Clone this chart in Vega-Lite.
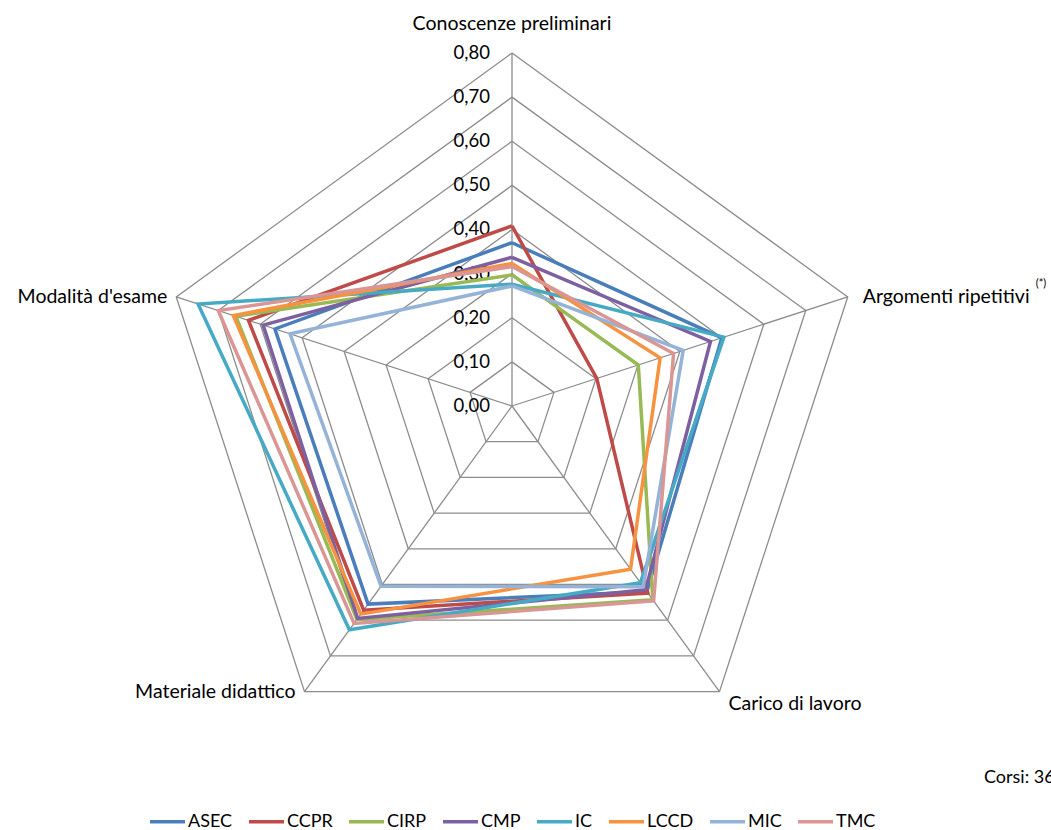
{
  "$schema": "https://vega.github.io/schema/vega-lite/v6.json",
  "width": 1051,
  "height": 830,
  "autosize": {"type": "none"},
  "padding": 0,
  "background": "white",
  "config": {"view": {"stroke": null}, "font": "Lato"},
  "datasets": {
    "series": [
      {"corso": "ASEC", "k": 0, "v": 0.370}, {"corso": "ASEC", "k": 1, "v": 0.500}, {"corso": "ASEC", "k": 2, "v": 0.520}, {"corso": "ASEC", "k": 3, "v": 0.555}, {"corso": "ASEC", "k": 4, "v": 0.565}, {"corso": "ASEC", "k": 5, "v": 0.370},
      {"corso": "CCPR", "k": 0, "v": 0.408}, {"corso": "CCPR", "k": 1, "v": 0.202}, {"corso": "CCPR", "k": 2, "v": 0.524}, {"corso": "CCPR", "k": 3, "v": 0.572}, {"corso": "CCPR", "k": 4, "v": 0.628}, {"corso": "CCPR", "k": 5, "v": 0.408},
      {"corso": "CIRP", "k": 0, "v": 0.297}, {"corso": "CIRP", "k": 1, "v": 0.301}, {"corso": "CIRP", "k": 2, "v": 0.543}, {"corso": "CIRP", "k": 3, "v": 0.598}, {"corso": "CIRP", "k": 4, "v": 0.658}, {"corso": "CIRP", "k": 5, "v": 0.297},
      {"corso": "CMP", "k": 0, "v": 0.337}, {"corso": "CMP", "k": 1, "v": 0.473}, {"corso": "CMP", "k": 2, "v": 0.515}, {"corso": "CMP", "k": 3, "v": 0.595}, {"corso": "CMP", "k": 4, "v": 0.593}, {"corso": "CMP", "k": 5, "v": 0.337},
      {"corso": "IC", "k": 0, "v": 0.276}, {"corso": "IC", "k": 1, "v": 0.505}, {"corso": "IC", "k": 2, "v": 0.495}, {"corso": "IC", "k": 3, "v": 0.627}, {"corso": "IC", "k": 4, "v": 0.748}, {"corso": "IC", "k": 5, "v": 0.276},
      {"corso": "LCCD", "k": 0, "v": 0.323}, {"corso": "LCCD", "k": 1, "v": 0.353}, {"corso": "LCCD", "k": 2, "v": 0.457}, {"corso": "LCCD", "k": 3, "v": 0.583}, {"corso": "LCCD", "k": 4, "v": 0.664}, {"corso": "LCCD", "k": 5, "v": 0.323},
      {"corso": "MIC", "k": 0, "v": 0.272}, {"corso": "MIC", "k": 1, "v": 0.408}, {"corso": "MIC", "k": 2, "v": 0.506}, {"corso": "MIC", "k": 3, "v": 0.505}, {"corso": "MIC", "k": 4, "v": 0.529}, {"corso": "MIC", "k": 5, "v": 0.272},
      {"corso": "TMC", "k": 0, "v": 0.316}, {"corso": "TMC", "k": 1, "v": 0.385}, {"corso": "TMC", "k": 2, "v": 0.546}, {"corso": "TMC", "k": 3, "v": 0.609}, {"corso": "TMC", "k": 4, "v": 0.700}, {"corso": "TMC", "k": 5, "v": 0.316}
    ],
    "levels": [
      {"level": 0.0, "lab": "0,00", "k": [0, 1, 2, 3, 4, 5]},
      {"level": 0.1, "lab": "0,10", "k": [0, 1, 2, 3, 4, 5]},
      {"level": 0.2, "lab": "0,20", "k": [0, 1, 2, 3, 4, 5]},
      {"level": 0.3, "lab": "0,30", "k": [0, 1, 2, 3, 4, 5]},
      {"level": 0.4, "lab": "0,40", "k": [0, 1, 2, 3, 4, 5]},
      {"level": 0.5, "lab": "0,50", "k": [0, 1, 2, 3, 4, 5]},
      {"level": 0.6, "lab": "0,60", "k": [0, 1, 2, 3, 4, 5]},
      {"level": 0.7, "lab": "0,70", "k": [0, 1, 2, 3, 4, 5]},
      {"level": 0.8, "lab": "0,80", "k": [0, 1, 2, 3, 4, 5]}
    ],
    "axes": [
      {"k": 0, "name": "Conoscenze preliminari", "pos": "top"},
      {"k": 1, "name": "Argomenti ripetitivi", "pos": "right"},
      {"k": 2, "name": "Carico di lavoro", "pos": "bright"},
      {"k": 3, "name": "Materiale didattico", "pos": "bleft"},
      {"k": 4, "name": "Modalità d'esame", "pos": "left"}
    ],
    "note": [{"x": 1.0697, "y": -0.8429, "t": "Corsi: 36"}]
  },
  "layer": [
    {
      "data": {"name": "levels"},
      "transform": [
        {"filter": "datum.level > 0"},
        {"flatten": ["k"]},
        {"calculate": "PI/2 - datum.k*2*PI/5", "as": "ang"},
        {"calculate": "datum.level*cos(datum.ang)", "as": "px"},
        {"calculate": "datum.level*sin(datum.ang)", "as": "py"}
      ],
      "mark": {"type": "line", "color": "#8c8c8c", "strokeWidth": 1.3},
      "encoding": {
        "x": {"field": "px", "type": "quantitative", "axis": null, "scale": {"domain": [-1.16034, 1.22153], "nice": false, "zero": false}},
        "y": {"field": "py", "type": "quantitative", "axis": null, "scale": {"domain": [-0.96091, 0.92011], "nice": false, "zero": false}},
        "detail": {"field": "level"},
        "order": {"field": "k", "type": "quantitative"}
      }
    },
    {
      "data": {"name": "axes"},
      "transform": [
        {"calculate": "PI/2 - datum.k*2*PI/5", "as": "ang"},
        {"calculate": "0.8*cos(datum.ang)", "as": "px"},
        {"calculate": "0.8*sin(datum.ang)", "as": "py"},
        {"calculate": "0", "as": "ox"},
        {"calculate": "0", "as": "oy"}
      ],
      "mark": {"type": "rule", "color": "#8c8c8c", "strokeWidth": 1.3},
      "encoding": {
        "x": {"field": "ox", "type": "quantitative", "axis": null, "scale": {"domain": [-1.16034, 1.22153], "nice": false, "zero": false}},
        "y": {"field": "oy", "type": "quantitative", "axis": null, "scale": {"domain": [-0.96091, 0.92011], "nice": false, "zero": false}},
        "x2": {"field": "px"},
        "y2": {"field": "py"}
      }
    },
    {
      "data": {"name": "levels"},
      "transform": [{"calculate": "0", "as": "ox"}],
      "mark": {"type": "text", "align": "right", "baseline": "middle", "dx": -22, "fontSize": 18.5, "color": "#000000"},
      "encoding": {
        "x": {"field": "ox", "type": "quantitative", "axis": null, "scale": {"domain": [-1.16034, 1.22153], "nice": false, "zero": false}},
        "y": {"field": "level", "type": "quantitative", "axis": null, "scale": {"domain": [-0.96091, 0.92011], "nice": false, "zero": false}},
        "text": {"field": "lab"}
      }
    },
    {
      "data": {"name": "series"},
      "transform": [
        {"calculate": "PI/2 - datum.k*2*PI/5", "as": "ang"},
        {"calculate": "datum.v*cos(datum.ang)", "as": "px"},
        {"calculate": "datum.v*sin(datum.ang)", "as": "py"}
      ],
      "mark": {"type": "line", "strokeWidth": 3.5, "strokeJoin": "miter"},
      "encoding": {
        "x": {"field": "px", "type": "quantitative", "axis": null, "scale": {"domain": [-1.16034, 1.22153], "nice": false, "zero": false}},
        "y": {"field": "py", "type": "quantitative", "axis": null, "scale": {"domain": [-0.96091, 0.92011], "nice": false, "zero": false}},
        "order": {"field": "k", "type": "quantitative"},
        "color": {
          "field": "corso",
          "type": "nominal",
          "scale": {
            "domain": ["ASEC", "CCPR", "CIRP", "CMP", "IC", "LCCD", "MIC", "TMC"],
            "range": ["#4A7EBB", "#BE4B48", "#98B954", "#7D60A0", "#46AAC5", "#F69240", "#95B3D7", "#D99694"]
          },
          "legend": {
            "orient": "none",
            "legendX": 148,
            "legendY": 802,
            "direction": "horizontal",
            "title": null,
            "symbolType": "stroke",
            "symbolSize": 1225,
            "symbolStrokeWidth": 3.5,
            "labelFont": "Lato",
            "labelFontSize": 18,
            "labelColor": "#000000",
            "labelOffset": 1,
            "columnPadding": 9
          }
        }
      }
    },
    {
      "data": {"name": "axes"},
      "transform": [
        {"calculate": "PI/2 - datum.k*2*PI/5", "as": "ang"},
        {"calculate": "0.8*cos(datum.ang)", "as": "px"},
        {"calculate": "0.8*sin(datum.ang)", "as": "py"},
        {"filter": "datum.pos == 'top'"}
      ],
      "mark": {"type": "text", "align": "center", "baseline": "middle", "dy": -29, "fontSize": 19.5, "color": "#000000"},
      "encoding": {
        "x": {"field": "px", "type": "quantitative", "axis": null, "scale": {"domain": [-1.16034, 1.22153], "nice": false, "zero": false}},
        "y": {"field": "py", "type": "quantitative", "axis": null, "scale": {"domain": [-0.96091, 0.92011], "nice": false, "zero": false}},
        "text": {"field": "name"}
      }
    },
    {
      "data": {"name": "axes"},
      "transform": [
        {"calculate": "PI/2 - datum.k*2*PI/5", "as": "ang"},
        {"calculate": "0.8*cos(datum.ang)", "as": "px"},
        {"calculate": "0.8*sin(datum.ang)", "as": "py"},
        {"filter": "datum.pos == 'right'"}
      ],
      "mark": {"type": "text", "align": "left", "baseline": "middle", "dx": 15, "fontSize": 19.5, "color": "#000000"},
      "encoding": {
        "x": {"field": "px", "type": "quantitative", "axis": null, "scale": {"domain": [-1.16034, 1.22153], "nice": false, "zero": false}},
        "y": {"field": "py", "type": "quantitative", "axis": null, "scale": {"domain": [-0.96091, 0.92011], "nice": false, "zero": false}},
        "text": {"field": "name"}
      }
    },
    {
      "data": {"name": "axes"},
      "transform": [
        {"calculate": "PI/2 - datum.k*2*PI/5", "as": "ang"},
        {"calculate": "0.8*cos(datum.ang)", "as": "px"},
        {"calculate": "0.8*sin(datum.ang)", "as": "py"},
        {"filter": "datum.pos == 'right'"}
      ],
      "mark": {"type": "text", "align": "left", "baseline": "middle", "dx": 188, "dy": -13, "fontSize": 11, "color": "#000000"},
      "encoding": {
        "x": {"field": "px", "type": "quantitative", "axis": null, "scale": {"domain": [-1.16034, 1.22153], "nice": false, "zero": false}},
        "y": {"field": "py", "type": "quantitative", "axis": null, "scale": {"domain": [-0.96091, 0.92011], "nice": false, "zero": false}},
        "text": {"value": "(*)"}
      }
    },
    {
      "data": {"name": "axes"},
      "transform": [
        {"calculate": "PI/2 - datum.k*2*PI/5", "as": "ang"},
        {"calculate": "0.8*cos(datum.ang)", "as": "px"},
        {"calculate": "0.8*sin(datum.ang)", "as": "py"},
        {"filter": "datum.pos == 'bright'"}
      ],
      "mark": {"type": "text", "align": "left", "baseline": "middle", "dx": 9, "dy": 12, "fontSize": 19.5, "color": "#000000"},
      "encoding": {
        "x": {"field": "px", "type": "quantitative", "axis": null, "scale": {"domain": [-1.16034, 1.22153], "nice": false, "zero": false}},
        "y": {"field": "py", "type": "quantitative", "axis": null, "scale": {"domain": [-0.96091, 0.92011], "nice": false, "zero": false}},
        "text": {"field": "name"}
      }
    },
    {
      "data": {"name": "axes"},
      "transform": [
        {"calculate": "PI/2 - datum.k*2*PI/5", "as": "ang"},
        {"calculate": "0.8*cos(datum.ang)", "as": "px"},
        {"calculate": "0.8*sin(datum.ang)", "as": "py"},
        {"filter": "datum.pos == 'bleft' || datum.pos == 'left'"},
        {"calculate": "datum.pos == 'bleft' ? 12 : 0", "as": "off"}
      ],
      "mark": {"type": "text", "align": "right", "baseline": "middle", "dx": -9, "fontSize": 19.5, "color": "#000000"},
      "encoding": {
        "x": {"field": "px", "type": "quantitative", "axis": null, "scale": {"domain": [-1.16034, 1.22153], "nice": false, "zero": false}},
        "y": {"field": "py", "type": "quantitative", "axis": null, "scale": {"domain": [-0.96091, 0.92011], "nice": false, "zero": false}},
        "yOffset": {"field": "off", "type": "quantitative", "scale": null},
        "text": {"field": "name"}
      }
    },
    {
      "data": {"name": "note"},
      "mark": {"type": "text", "align": "left", "baseline": "middle", "fontSize": 18, "color": "#000000"},
      "encoding": {
        "x": {"field": "x", "type": "quantitative", "axis": null, "scale": {"domain": [-1.16034, 1.22153], "nice": false, "zero": false}},
        "y": {"field": "y", "type": "quantitative", "axis": null, "scale": {"domain": [-0.96091, 0.92011], "nice": false, "zero": false}},
        "text": {"field": "t"}
      }
    }
  ]
}
